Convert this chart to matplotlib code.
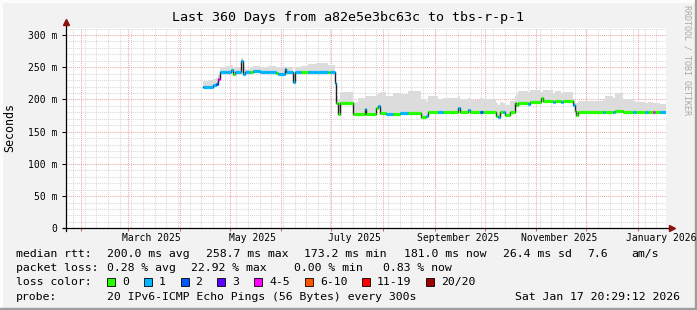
import datetime as dt
import matplotlib
matplotlib.use('Agg')
import matplotlib.pyplot as plt
import matplotlib.dates as mdates
from matplotlib.patches import Rectangle

W, H = 697, 310
MONO = 'DejaVu Sans Mono'

# time range of the graph
t_end = dt.datetime(2026, 1, 17, 20, 29, 12)
t_start = t_end - dt.timedelta(days=360)

# start of each step of the median / smoke
seg_start = [
    '2025-04-15', '2025-04-18', '2025-04-21', '2025-04-23', '2025-04-24', '2025-04-25', '2025-04-29', '2025-05-02', '2025-05-03', '2025-05-04',
    '2025-05-08', '2025-05-09', '2025-05-10', '2025-05-13', '2025-05-15', '2025-05-19', '2025-05-24', '2025-05-29', '2025-05-30', '2025-06-03',
    '2025-06-04', '2025-06-08', '2025-06-09', '2025-06-13', '2025-06-17', '2025-06-22', '2025-06-29', '2025-06-30', '2025-07-03', '2025-07-04',
    '2025-07-05', '2025-07-06', '2025-07-10', '2025-07-14', '2025-07-17', '2025-07-21', '2025-07-22', '2025-07-28', '2025-07-29', '2025-07-30',
    '2025-08-03', '2025-08-07', '2025-08-11', '2025-08-16', '2025-08-24', '2025-08-27', '2025-08-28', '2025-09-03', '2025-09-06', '2025-09-15',
    '2025-09-16', '2025-09-21', '2025-09-22', '2025-09-28', '2025-09-30', '2025-10-08', '2025-10-09', '2025-10-10', '2025-10-12', '2025-10-13',
    '2025-10-16', '2025-10-19', '2025-10-20', '2025-10-21', '2025-10-27', '2025-10-28', '2025-11-04', '2025-11-05', '2025-11-11', '2025-11-12',
    '2025-11-16', '2025-11-17', '2025-11-23', '2025-11-24', '2025-11-25', '2025-11-26', '2025-12-11', '2025-12-12', '2025-12-17', '2025-12-18',
    '2025-12-23', '2025-12-29', '2025-12-31', '2026-01-05', '2026-01-07', '2026-01-10', '2026-01-11', '2026-01-14']
last_sample = '2026-01-17 20:00'

# median rtt in ms
median_ms = [
    219, 220, 222, 224, 231, 242, 242, 246, 240, 242,
    259, 240, 242, 243, 244, 243, 242, 241, 240, 247,
    242, 227, 242, 242, 243, 243, 243, 243, 226, 194,
    177, 195, 195, 178, 178, 185, 178, 186, 190, 179,
    178, 178, 179, 179, 173, 175, 181, 180, 180, 187,
    180, 184, 180, 181, 180, 174, 173, 180, 181, 176,
    181, 194, 191, 195, 193, 196, 202, 197, 196, 197,
    196, 197, 192, 182, 176, 181, 181, 181, 181, 182,
    181, 181, 181, 181, 181, 181, 181, 181]

# loss bucket index (0 -> "0", 1 -> "1", 2 -> "2", ... 7 -> "20/20")
loss_bucket = [
    1, 1, 1, 2, 4, 1, 1, 1, 0, 1,
    1, 1, 1, 0, 1, 1, 1, 0, 1, 1,
    1, 1, 1, 0, 1, 1, 0, 1, 1, 0,
    0, 0, 0, 0, 0, 1, 0, 0, 1, 0,
    1, 0, 1, 0, 0, 1, 0, 1, 0, 1,
    0, 1, 0, 2, 0, 0, 1, 0, 1, 0,
    0, 0, 0, 0, 1, 0, 0, 0, 1, 0,
    1, 0, 1, 0, 0, 0, 1, 0, 1, 0,
    0, 1, 0, 1, 0, 4, 0, 1]

# upper edge of the smoke (slowest pings) in ms
smoke_top = [
    228, 230, 232, 233, 238, 250, 252, 254, 250, 249,
    265, 250, 248, 250, 252, 250, 252, 250, 251, 252,
    251, 240, 250, 252, 255, 256, 254, 253, 230, 205,
    200, 211, 212, 196, 203, 206, 205, 207, 210, 212,
    205, 210, 208, 213, 200, 198, 205, 200, 202, 205,
    200, 203, 199, 202, 200, 195, 192, 196, 195, 192,
    197, 205, 208, 213, 212, 214, 212, 215, 210, 213,
    210, 212, 200, 196, 195, 197, 200, 205, 203, 210,
    200, 198, 196, 195, 196, 195, 194, 193]

loss_labels = ['0', '1', '2', '3', '4-5', '6-10', '11-19', '20/20']
loss_colors = ['#26ff00', '#00b8ff', '#0059ff', '#5e00ff', '#ff00ff', '#ff5500', '#ff0000', '#a00000']

y_ticks = [0, 50, 100, 150, 200, 250, 300]
y_tick_labels = ['0', '50 m', '100 m', '150 m', '200 m', '250 m', '300 m']
x_label_dates = ['2025-03-15', '2025-05-15', '2025-07-15', '2025-09-15', '2025-11-15', '2026-01-15']
x_label_text = ['March 2025', 'May 2025', 'July 2025', 'September 2025', 'November 2025', 'January 2026']


def px(x, y):
    # pixel (from top left) -> figure fraction
    return x / W, 1 - y / H


fig = plt.figure(figsize=(W / 100, H / 100), dpi=100)
fig.patch.set_facecolor('#f2f2f2')

# 3d-ish frame round the canvas
fig.patches.append(Rectangle((0, 0), 2 / W, 1, transform=fig.transFigure, color='#fcfcfc', zorder=-1))
fig.patches.append(Rectangle((0, 1 - 2 / H), 1, 2 / H, transform=fig.transFigure, color='#fcfcfc', zorder=-1))
fig.patches.append(Rectangle((1 - 2 / W, 0), 2 / W, 1, transform=fig.transFigure, color='#9e9e9e', zorder=-1))
fig.patches.append(Rectangle((0, 0), 1, 2 / H, transform=fig.transFigure, color='#9e9e9e', zorder=-1))

ax_left, ax_bottom = px(66, 228.3)
ax = fig.add_axes([ax_left, ax_bottom, 600 / W, 200 / H])
ax.set_facecolor('white')

x0 = mdates.date2num(t_start)
x1 = mdates.date2num(t_end)
ax.set_xlim(x0, x1)
ymax = 200 / 0.6443
ax.set_ylim(0, ymax)

# grid: weekly / 10 ms minor, monthly / 50 ms major
months = []
d = dt.datetime(t_start.year, t_start.month, 1)
while d <= t_end:
    if d >= t_start:
        months.append(mdates.date2num(d))
    d = dt.datetime(d.year + (d.month == 12), d.month % 12 + 1, 1)
weeks = []
d = dt.datetime(2025, 9, 1)
while d - dt.timedelta(days=7) >= t_start:
    d -= dt.timedelta(days=7)
while d <= t_end:
    weeks.append(mdates.date2num(d))
    d += dt.timedelta(days=7)

dots = (0, (1, 1))
for w in weeks:
    ax.axvline(w, color='#d8d8d8', lw=0.75, ls=dots, zorder=0)
for v in range(10, 320, 10):
    if v % 50:
        ax.axhline(v, color='#d8d8d8', lw=0.75, ls=dots, zorder=0)
for m in months:
    ax.axvline(m, color='#f2a8a8', lw=0.75, ls=dots, zorder=0.5)
for v in y_ticks[1:]:
    ax.axhline(v, color='#f2a8a8', lw=0.75, ls=dots, zorder=0.5)

# smoke and median
xs = [mdates.date2num(dt.datetime.fromisoformat(s)) for s in seg_start]
xe = xs[1:] + [mdates.date2num(dt.datetime.fromisoformat(last_sample))]
ax.fill_between(xs + [xe[-1]], median_ms + [median_ms[-1]], smoke_top + [smoke_top[-1]],
                step='post', color='#dcdcdc', lw=0, zorder=1)
ax.step(xs + [xe[-1]], median_ms + [median_ms[-1]], where='post', color='#202020', lw=1.0, zorder=2)
ax.hlines(median_ms, xs, xe, colors=[loss_colors[b] for b in loss_bucket], lw=2.3, zorder=3)

# ticks
ax.set_yticks(y_ticks, y_tick_labels, family=MONO, fontsize=7)
ax.tick_params(axis='y', length=3, width=0.75, pad=3, color='black')
ax.set_xticks(months, [''] * len(months))
ax.tick_params(axis='x', length=2, width=0.75, color='#d06060')
for s, t in zip(x_label_dates, x_label_text):
    ax.text(mdates.date2num(dt.datetime.fromisoformat(s)), -0.025, t, transform=ax.get_xaxis_transform(),
            ha='center', va='top', family=MONO, fontsize=7)
for sp in ax.spines.values():
    sp.set_visible(False)

# axis lines with arrows
ax.plot([0, 0], [-0.015, 1.025], transform=ax.transAxes, color='black', lw=0.9, clip_on=False, zorder=5)
ax.plot([-0.005, 1.008], [0, 0], transform=ax.transAxes, color='black', lw=0.9, clip_on=False, zorder=5)
ax.plot([0], [1.03], marker='^', ms=4, color='#8b1010', transform=ax.transAxes, clip_on=False, zorder=6)
ax.plot([1.01], [0], marker='>', ms=4, color='#8b1010', transform=ax.transAxes, clip_on=False, zorder=6)

# titles
fig.text(*px(348, 18), 'Last 360 Days from a82e5e3bc63c to tbs-r-p-1', family=MONO, fontsize=9.6,
         ha='center', va='center')
fig.text(*px(10, 128), 'Seconds', family=MONO, fontsize=8.4, rotation=90, ha='center', va='center')
fig.text(*px(687, 5), 'RRDTOOL / TOBI OETIKER', family=MONO, fontsize=6, rotation=270,
         ha='center', va='top', color='#a8a8a8')

LEG = 8.25


# legend rows
def row(y, parts):
    for x, s in parts:
        fig.text(*px(x, y), s, family=MONO, fontsize=LEG, ha='left', va='center')


row(254, [(16, 'median rtt:'), (107.3, '200.0 ms avg'), (206, '258.7 ms max'), (304.5, '173.2 ms min'),
          (404, '181.0 ms now'), (503, '26.4 ms sd'), (587, '7.6'), (631, 'am/s')])
row(268, [(16, 'packet loss:'), (107.3, '0.28 % avg'), (191, '22.92 % max'), (294, '0.00 % min'),
          (383, '0.83 % now')])
row(282, [(16, 'loss color:')])
box_x = [107, 144, 180.6, 217, 254, 305, 362, 426]
for bx, lab, col in zip(box_x, loss_labels, loss_colors):
    fx, fy = px(bx, 286)
    fig.patches.append(Rectangle((fx, fy), 8 / W, 8 / H, transform=fig.transFigure,
                                 facecolor=col, edgecolor='black', lw=0.6))
    fig.text(*px(bx + 15, 282), lab, family=MONO, fontsize=LEG, ha='left', va='center')
row(297, [(16, 'probe:'), (107, '20 IPv6-ICMP Echo Pings (56 Bytes) every 300s')])
fig.text(*px(680, 297), 'Sat Jan 17 20:29:12 2026', family=MONO, fontsize=LEG, ha='right', va='center')

fig.savefig('out.png', dpi=100, facecolor=fig.get_facecolor())
